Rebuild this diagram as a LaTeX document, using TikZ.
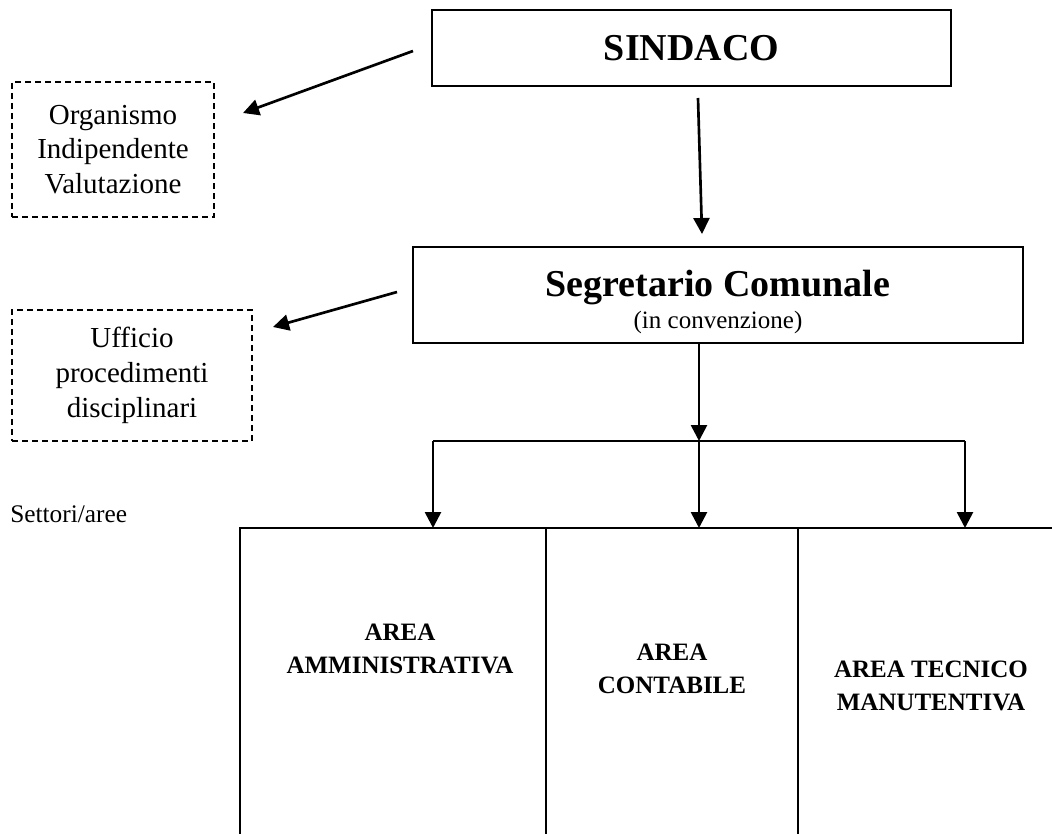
\documentclass[tikz,border=0pt]{standalone}
\usepackage{fontspec}
\setmainfont{Liberation Serif}
\usetikzlibrary{arrows.meta}

\begin{document}
\begin{tikzpicture}[x=0.75pt, y=-0.75pt, >={Triangle[length=12pt,width=12pt]},
box/.style ={draw, line width=1.5pt, inner sep=0pt, align=center},
dbox/.style ={draw, dashed, dash pattern=on 4.5pt off 3pt, line width=1.3pt, inner sep=0pt, align=center, font=\fontsize{21.75}{26}\selectfont},
arr/.style ={->, line width=2pt},
lin/.style ={line width=2pt},
areatext/.style ={align=center, inner sep=0pt, font=\fontsize{18.75}{24.75}\selectfont\bfseries}]
\useasboundingbox (0,0) rectangle (1052,834);

\node[box, minimum width=389.25pt, minimum height=57pt, font=\fontsize{28.5}{32}\selectfont\bfseries] (sind) at (691.5,48) {SINDACO};
\node[dbox, minimum width=151.5pt, minimum height=101.25pt] (oiv) at (113,149.5) {Organismo\\Indipendente\\Valutazione};
\node[box, minimum width=457.5pt, minimum height=72pt, font=\fontsize{18.75}{24}\selectfont] (seg) at (718,295)
  {\rule{0pt}{30pt}{\fontsize{28.5}{24}\selectfont\bfseries Segretario Comunale}\\(in convenzione)};
\node[dbox, minimum width=180pt, minimum height=98.25pt] (upd) at (132,375.5) {Ufficio\\procedimenti\\disciplinari};
\node[anchor=base west, inner sep=0pt, font=\fontsize{19}{22}\selectfont] (sett) at (10,522) {Settori/aree};

% aree
\node[areatext] (amm) at (400,648.5) {AREA\\AMMINISTRATIVA};
\node[areatext] (cont) at (672,669) {AREA\\CONTABILE};
\node[areatext] (tec) at (931,686) {AREA TECNICO\\MANUTENTIVA};
\draw[lin] (240,834) |- (1052,528);
\draw[lin] (546,528) -- (546,834);
\draw[lin] (798,528) -- (798,834);

% punti dei collegamenti
\coordinate (s1) at (413,51);
\coordinate (s2) at (243,113);
\coordinate (s3) at (698,98);
\coordinate (s4) at (702,234);
\coordinate (g1) at (397,292);
\coordinate (g2) at (273,327);
\coordinate (jn) at (699,441);
\coordinate (jl) at (433,441);
\coordinate (jr) at (965,441);
\coordinate (tamm) at (433,528);
\coordinate (tcont) at (699,528);
\coordinate (ttec) at (965,528);

\path[arr] (s1) edge (s2)
           (s3) edge (s4)
           (g1) edge (g2)
           (seg.south -| jn) edge (jn)
           (jl) edge (tamm)
           (jn) edge (tcont)
           (jr) edge (ttec);
\draw[lin] (jl) -- (jr);
\end{tikzpicture}
\end{document}
